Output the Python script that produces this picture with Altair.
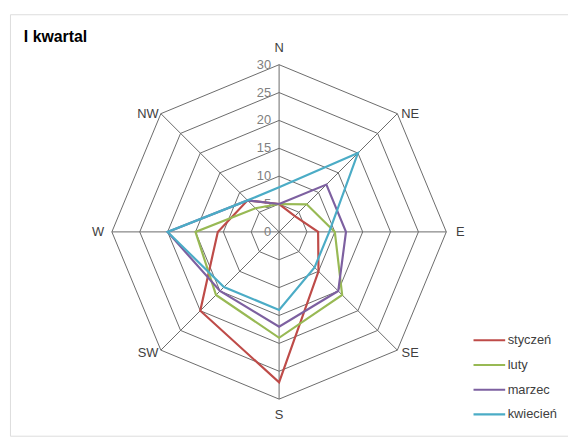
import math
import altair as alt
import pandas as pd

# ---------------- data ----------------
directions = ["N", "NE", "E", "SE", "S", "SW", "W", "NW"]
series_names = ["styczeń", "luty", "marzec", "kwiecień"]
styczen = [5, 4, 7, 10, 27, 20, 11, 8]
luty = [5, 7, 10, 16, 19, 16, 15, 6]
marzec = [5, 12, 12, 15, 17, 15, 20, 8]
kwiecien = [8, 20, 9, 9, 14, 14, 20, 8]
tick_values = [0, 5, 10, 15, 20, 25, 30]
colors = ["#BE4B48", "#98B954", "#7D60A0", "#4BACC6"]
title_text = "I kwartal"

# ---------------- tables ----------------
n = len(directions)
rmax = max(tick_values)

rows = []
for name, vals in zip(series_names, [styczen, luty, marzec, kwiecien]):
    for i in range(n + 1):
        rows.append({"series": name, "idx": i, "value": vals[i % n]})
series_df = pd.DataFrame(rows)

ring_rows = []
for r in tick_values[1:]:
    for i in range(n + 1):
        ring_rows.append({"ring": r, "idx": i, "value": r})
ring_df = pd.DataFrame(ring_rows)

spoke_df = pd.DataFrame({"idx": list(range(n)), "value": [rmax] * n})
label_df = pd.DataFrame({"idx": list(range(n)), "dir": directions, "value": [rmax] * n})
tick_df = pd.DataFrame({"value": tick_values})

# ---------------- layout ----------------
W, H = 564, 426
k = 169 / 30.0          # pixels per unit
cx, cy = 272, 220       # centre within view
xdom = [-cx / k, (W - cx) / k]
ydom = [-(H - cy) / k, cy / k]

xs = alt.Scale(domain=xdom, nice=False, zero=False)
ys = alt.Scale(domain=ydom, nice=False, zero=False)

ang = f"datum.idx * 2 * PI / {n}"
calc_x = f"datum.value * sin({ang})"
calc_y = f"datum.value * cos({ang})"

FONT = "Liberation Sans"
GRID = "#6a6a6a"

rings = alt.Chart(ring_df).transform_calculate(x=calc_x, y=calc_y).mark_line(
    color=GRID, strokeWidth=1
).encode(
    x=alt.X("x:Q", scale=xs, axis=None),
    y=alt.Y("y:Q", scale=ys, axis=None),
    detail="ring:N",
    order="idx:Q",
)

spokes = alt.Chart(spoke_df).transform_calculate(
    x=calc_x, y=calc_y, x0="0", y0="0"
).mark_rule(color=GRID, strokeWidth=1).encode(
    x=alt.X("x0:Q", scale=xs, axis=None),
    y=alt.Y("y0:Q", scale=ys, axis=None),
    x2="x:Q",
    y2="y:Q",
)

tick_labels = alt.Chart(tick_df).transform_calculate(x0="0").mark_text(
    align="right", baseline="middle", dx=-8, font=FONT, fontSize=13, color="#808080"
).encode(
    x=alt.X("x0:Q", scale=xs, axis=None),
    y=alt.Y("value:Q", scale=ys, axis=None),
    text="value:Q",
)

dir_labels = alt.Chart(label_df).transform_calculate(
    s=f"sin({ang})", c=f"cos({ang})"
).transform_calculate(
    lx="datum.value * datum.s + (abs(datum.s) < 0.1 ? 0 : (abs(datum.c) < 0.1 ? 2.5 : 2.3) * (datum.s > 0 ? 1 : -1))",
    ly="datum.value * datum.c + (abs(datum.s) < 0.1 ? 2.9 * (datum.c > 0 ? 1 : -1) : (datum.c < -0.1 ? -0.5 : 0))",
).mark_text(
    align="center", baseline="middle", font=FONT, fontSize=13, color="#404040"
).encode(
    x=alt.X("lx:Q", scale=xs, axis=None),
    y=alt.Y("ly:Q", scale=ys, axis=None),
    text="dir:N",
)

lines = alt.Chart(series_df).transform_calculate(x=calc_x, y=calc_y).mark_line(
    strokeWidth=2.2
).encode(
    x=alt.X("x:Q", scale=xs, axis=None),
    y=alt.Y("y:Q", scale=ys, axis=None),
    color=alt.Color(
        "series:N",
        scale=alt.Scale(domain=series_names, range=colors),
        sort=series_names,
        legend=alt.Legend(
            title=None,
            orient="none",
            legendX=467,
            legendY=312,
            symbolType="stroke",
            symbolSize=1024,
            symbolStrokeWidth=2.2,
            rowPadding=-8,
            labelOffset=1,
            labelFont=FONT,
            labelFontSize=13,
            labelColor="#404040",
        ),
    ),
    order="idx:Q",
)

chart = alt.layer(rings, spokes, tick_labels, dir_labels, lines).properties(
    width=W,
    height=H,
    padding={"left": 2, "top": 4, "right": 0, "bottom": 0},
    autosize=alt.AutoSizeParams(type="none"),
    title=alt.TitleParams(
        text=title_text,
        anchor="start",
        frame="group",
        offset=0,
        dx=14,
        dy=44,
        baseline="alphabetic",
        font=FONT,
        fontSize=16,
        fontWeight="bold",
        color="#000000",
    ),
).configure_view(stroke="#8c8c8c", strokeWidth=1).configure(background="white")

chart.save("out.html", embed_options={"renderer": "svg", "actions": False})
